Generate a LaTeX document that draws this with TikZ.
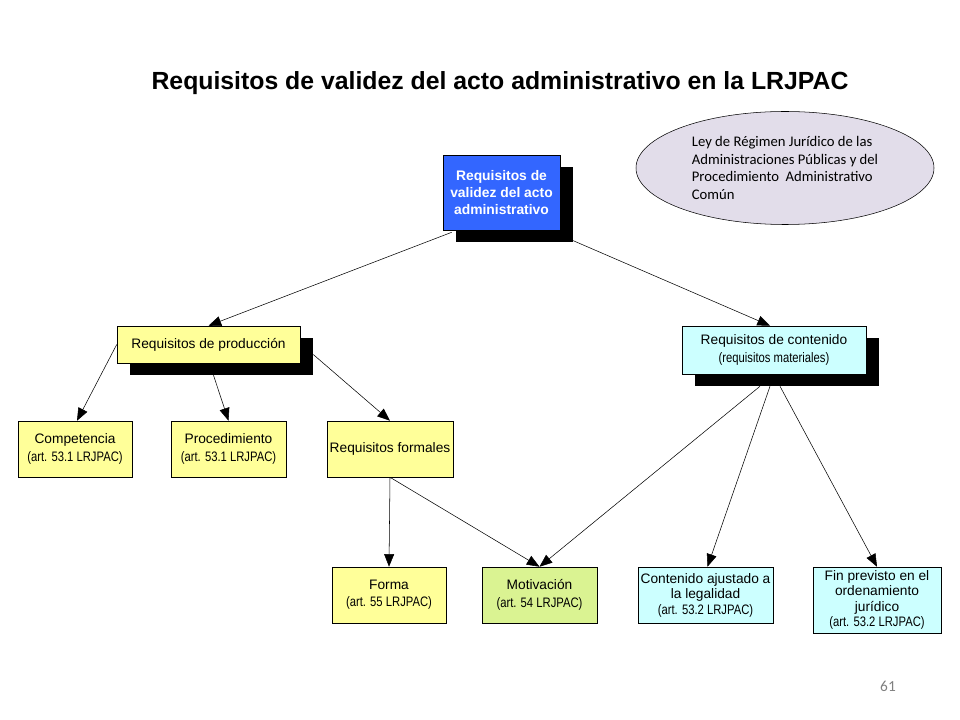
\documentclass[tikz,border=0pt]{standalone}
\usepackage{fontspec}
\setmainfont{Liberation Sans}
\newfontfamily\narrowfont[FakeStretch=0.82]{Liberation Sans}
\newfontfamily\notefont{Carlito}
\usetikzlibrary{arrows.meta,shadows,calc,shapes.geometric}
\definecolor{azul}{RGB}{51,102,255}
\definecolor{amarillo}{RGB}{255,255,153}
\definecolor{celeste}{RGB}{204,255,255}
\definecolor{verde}{RGB}{218,243,146}
\definecolor{lila}{RGB}{226,221,234}
\tikzset{
    caja/.style={draw,thin,align=center,inner sep=1pt,
        font=\fontsize{10.3}{11.6}\selectfont},
    doble/.style={caja,font=\fontsize{10.3}{13}\selectfont},
    medida/.style 2 args={minimum width=#1*0.75pt,minimum height=#2*0.75pt},
    sombra/.style={drop shadow={shadow xshift=9.5pt,shadow yshift=-9pt,
        fill=black,opacity=1}},
    flecha/.style={-{Triangle[length=9.5pt,width=7.5pt]},thin},
}
\begin{document}
\begin{tikzpicture}[x=0.75pt,y=-0.75pt]
    \useasboundingbox[fill=white] (0,0) rectangle (960,720);
    \node (titulo) at (500,83) {\fontsize{18.6}{22}\selectfont\bfseries
        Requisitos de validez del acto administrativo en la LRJPAC};
    \node[ellipse,draw,thin,fill=lila,medida={298}{113},align=left,inner sep=0pt,
        font=\notefont\fontsize{11}{13.2}\selectfont] (ley) at (785,168)
        {Ley de Régimen Jurídico de las\\Administraciones Públicas y del\\
         Procedimiento\ \ Administrativo\\Común};
    % nivel 1
    \node[caja,sombra,fill=azul,text=white,medida={117}{75},
        font=\bfseries\fontsize{10.4}{12.9}\selectfont] (raiz) at (501.5,192.5)
        {Requisitos de\\validez del acto\\administrativo};
    % nivel 2
    \node[caja,sombra,fill=amarillo,medida={183}{37}] (prod) at (208.5,344.5)
        {Requisitos de producción};
    \node[doble,sombra,fill=celeste,medida={184}{48}] (cont) at (774,350)
        {Requisitos de contenido\\{\narrowfont (requisitos materiales)}};
    % nivel 3
    \foreach \n/\x/\w/\t in {comp/75/114/Competencia,proc/228.5/115/Procedimiento}{
            \node[doble,fill=amarillo,medida={\w}{56}] (\n) at (\x,449)
                {\t\\{\narrowfont (art. 53.1 LRJPAC)}};
        }
    \node[caja,fill=amarillo,medida={126}{56}] (form) at (390,449) {Requisitos formales};
    % nivel 4
    \node[doble,fill=amarillo,medida={114}{56}] (forma) at (389,595)
        {Forma\\{\narrowfont (art. 55 LRJPAC)}};
    \node[doble,fill=verde,medida={115}{56}] (motiv) at (539.5,595)
        {Motivación\\{\narrowfont (art. 54 LRJPAC)}};
    \node[caja,fill=celeste,medida={135}{56}] (ajus) at (705.5,595)
        {Contenido ajustado a\\la legalidad\\{\narrowfont (art. 53.2 LRJPAC)}};
    \node[caja,fill=celeste,medida={128}{66}] (fin) at (877,600)
        {Fin previsto en el\\ordenamiento\\jurídico\\{\narrowfont (art. 53.2 LRJPAC)}};
    % flechas
    \draw[flecha] ($(raiz.south west)+(9,2)$) -- (prod.north);
    \draw[flecha] ($(raiz.south east)+(12,10)$) -- ($(cont.north)+(-4,0)$);
    \draw[flecha] (prod.west) -- ($(comp.north)+(2,0)$);
    \draw[flecha] ($(prod.south)+(5,12)$) -- (proc.north);
    \draw[flecha] ($(prod.east)+(13,10)$) -- (form.north);
    \draw[flecha] (form.south) -- (forma.north);
    \draw[flecha] (form.south) -- (motiv.north);
    \draw[flecha] ($(cont.south)+(-14,12)$) -- (motiv.north);
    \draw[flecha] ($(cont.south)+(-4,12)$) -- ($(ajus.north)+(2,0)$);
    \draw[flecha] ($(cont.south)+(6,12)$) -- (fin.north);
    \node[text=gray,font=\notefont\fontsize{11.5}{13}\selectfont] (pagina) at (888,686) {61};
\end{tikzpicture}
\end{document}
